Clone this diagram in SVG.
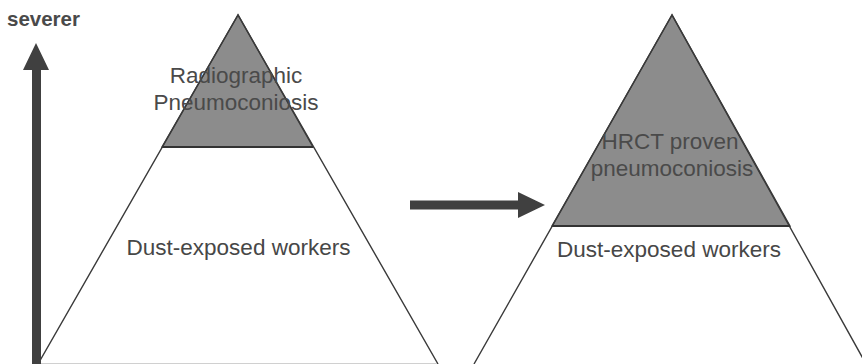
<svg xmlns="http://www.w3.org/2000/svg" width="862" height="364" viewBox="0 0 862 364">
<style>
.bg{fill:#ffffff}
.edge{fill:none;stroke:#3a3a3a;stroke-width:1.4;stroke-linejoin:miter}
.top{fill:#8c8c8c;stroke:#3a3a3a;stroke-width:1.4}
.band{stroke:#333333;stroke-width:2}
.lbl{font-family:"Liberation Sans",Arial,sans-serif;font-size:22.5px;text-anchor:middle;fill:#474747}
.lbl-in{fill:#4a4a4a}
.sev{font-family:"Liberation Sans",Arial,sans-serif;font-size:20.5px;font-weight:bold;fill:#4a4a4a}
.arrow{fill:#404040}
</style>
<rect class="bg" x="0" y="0" width="862" height="364"/>
<g id="left-pyramid">
  <polygon points="238,15 38,364 438,364" fill="#ffffff" stroke="none"/>
  <polygon class="top" points="238,15 162,147 313,147"/>
  <polyline class="edge" points="38,364 238,15 438,364"/>
  <line x1="40" y1="363.5" x2="437" y2="363.5" stroke="#d0d0d0" stroke-width="1"/>
  <line class="band" x1="162" y1="147" x2="313" y2="147"/>
  <text class="lbl lbl-in" x="236" y="83">Radiographic</text>
  <text class="lbl lbl-in" x="236" y="110">Pneumoconiosis</text>
  <text class="lbl" x="238.5" y="255">Dust-exposed workers</text>
</g>
<g id="right-pyramid">
  <polygon class="top" points="672,15 552,226 790,226"/>
  <polyline class="edge" points="474,364 672,15 866,364"/>
  <line class="band" x1="552" y1="226" x2="790" y2="226"/>
  <text class="lbl lbl-in" x="670" y="149">HRCT proven</text>
  <text class="lbl lbl-in" x="672" y="176">pneumoconiosis</text>
  <text class="lbl" x="669" y="257">Dust-exposed workers</text>
</g>
<g id="severity-axis">
  <text class="sev" x="7" y="26">severer</text>
</g>
<g id="connectors">
  <polygon class="arrow" points="32,364 32,70 23,70 36,43 49,70 41,70 41,364"/>
  <polygon class="arrow" points="410,200.5 518,200.5 518,192 545,205 518,218 518,209.5 410,209.5"/>
</g>
</svg>
